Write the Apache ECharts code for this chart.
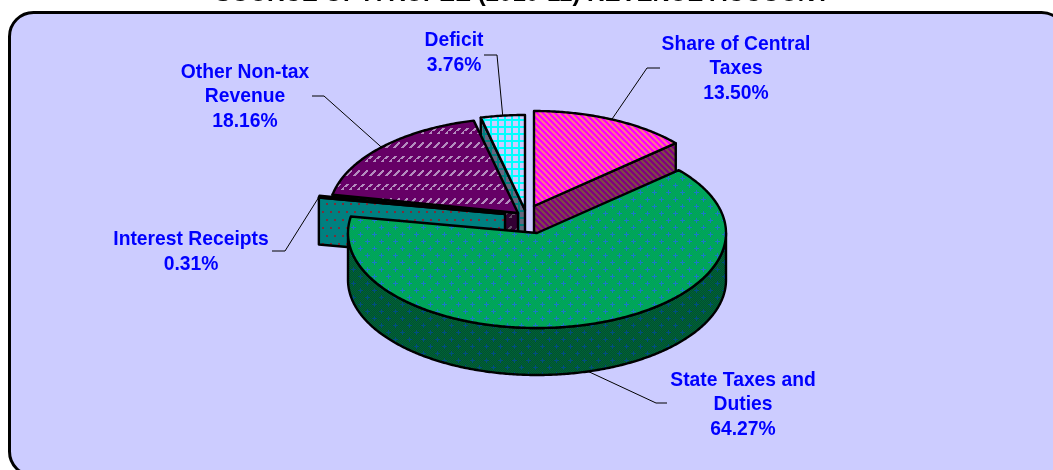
<!DOCTYPE html>
<html>
<head>
<meta charset="utf-8">
<style>html,body{margin:0;padding:0;background:#fff}#chart{width:1053px;height:470px}</style>
<script src="https://cdn.jsdelivr.net/npm/echarts@6/dist/echarts.min.js"></script>
</head>
<body>
<div id="chart"></div>
<script>
// ---- data ----
const categories = ['Share of Central Taxes', 'State Taxes and Duties', 'Interest Receipts', 'Other Non-tax Revenue', 'Deficit'];
const shares = [13.50, 64.27, 0.31, 18.16, 3.76];
const labelLines = [['Share of Central', 'Taxes'], ['State Taxes and', 'Duties'], ['Interest Receipts'], ['Other Non-tax', 'Revenue'], ['Deficit']];
const titleText = 'SOURCE OF A RUPEE (2010-11) REVENUE ACCOUNT';

// ---- layout and style ----
const pie = { cx: 537, cy: 233, rx: 189, ry: 95, depth: 47 };
const explode = [[-3, -27], [0, 0], [-32, -19], [-19, -20], [-12, -23]];
const stack = [1, 5, 4, 3, 2];
const labelPos = [[736, 69], [743, 405], [191, 252], [245, 97], [454, 53]];
const elbow = [[[647, 68], [660, 68]], [[656, 403], [667, 403]], [[285, 251], [272, 251]], [[324, 96], [312, 96]], [[497, 55], [484, 55]]];

function tile(w, h, bg, paint) {
  const c = document.createElement('canvas');
  c.width = w; c.height = h;
  const g = c.getContext('2d');
  g.fillStyle = bg; g.fillRect(0, 0, w, h);
  paint((x, y, col, pw, ph) => {
    g.fillStyle = col;
    g.fillRect(((x % w) + w) % w, ((y % h) + h) % h, pw || 1, ph || 1);
  });
  return { image: c, repeat: 'repeat' };
}
function stripes(a, b) {
  return tile(6, 6, a, p => { for (let x = 0; x < 6; x++) for (let y = 0; y < 6; y++) if (((x - y + 12) % 6) < 3) p(x, y, b); });
}
function weave(a, b, cross) {
  return tile(14, 14, a, p => {
    for (let x = 0; x < 14; x++) for (let y = 0; y < 14; y++) if ((x + y) % 2) p(x, y, b);
    [[3, 3], [10, 10]].forEach(([x, y]) => {
      for (let d = -2; d <= 2; d++) { p(x + d, y, cross); p(x, y + d, cross); }
    });
  });
}
function dashes(bg, col) {
  return tile(8, 28, bg, p => {
    [[1, 7], [5, 21]].forEach(([x, y]) => {
      for (let i = 0; i < 6; i++) { p(x + i, y - i, col, 3, 1); }
    });
  });
}
function dots(bg, col) {
  return tile(8, 16, bg, p => { p(2, 3, col, 2, 2); p(6, 11, col, 2, 2); });
}
function grid(bg, line) {
  return tile(7, 7, bg, p => { p(0, 0, line, 7, 2); p(0, 0, line, 2, 7); });
}
const topFill = [
  stripes('#FF00FF', '#FF7090'),
  weave('#00AE55', '#009C60', '#1A78C8'),
  dots('#008080', '#8B3A3A'),
  dashes('#660066', '#B48CBE'),
  grid('#CCCCFF', '#00FFFF')
];
const wallFill = [
  stripes('#800080', '#804548'),
  weave('#006633', '#004D33', '#004C80'),
  dots('#008080', '#7A2F3A'),
  dashes('#330033', '#66536A'),
  grid('#666680', '#008080')
];

// ---- geometry from the values ----
const total = shares.reduce((a, b) => a + b, 0);
const starts = [];
shares.reduce((acc, v, i) => { starts[i] = acc; return acc + v; }, 0);
const toAngle = v => v / total * Math.PI * 2;
function rim(c, t, dz) { return [c[0] + pie.rx * Math.sin(t), c[1] - pie.ry * Math.cos(t) + (dz || 0)]; }
function arc(c, a, b, dz) {
  const n = Math.max(2, Math.ceil((b - a) / 0.01)), out = [];
  for (let k = 0; k <= n; k++) out.push(rim(c, a + (b - a) * k / n, dz));
  return out;
}
const down = p => [p[0], p[1] + pie.depth];
const edge = { stroke: '#000', lineWidth: 2.4, lineJoin: 'round' };

function renderItem(params, api) {
  const i = params.dataIndex, value = api.value(0);
  const a = toAngle(starts[i]), b = a + toAngle(value);
  const c = [pie.cx + explode[i][0], pie.cy + explode[i][1]];
  const z = stack[i] * 10;
  const kids = [];
  const poly = (points, fill, zz) => kids.push({ type: 'polygon', z2: z + zz, shape: { points }, style: Object.assign({ fill }, edge) });

  // radial walls that face the viewer
  [a, b].forEach(t => {
    const s = Math.sin(t);
    const facing = t === a ? s < 0 && t > Math.PI : s > 0 && t < Math.PI;
    if (facing) {
      const p = rim(c, t);
      poly([c, p, down(p), down(c)], wallFill[i], 0);
    }
  });
  // outer curved wall, front half only
  const fa = Math.max(a, Math.PI / 2), fb = Math.min(b, Math.PI * 1.5);
  if (fb > fa) {
    const top = arc(c, fa, fb);
    poly(top.concat(top.slice().reverse().map(down)), wallFill[i], 1);
  }
  // top face
  poly([c].concat(arc(c, a, b)), topFill[i], 2);

  // leader line and label
  const mid = (a + b) / 2;
  let anchor = rim(c, mid);
  if (Math.cos(mid) < -0.7) anchor = down(anchor);
  kids.push({ type: 'polyline', z2: 100, shape: { points: [anchor].concat(elbow[i]) }, style: { fill: null, stroke: '#000', lineWidth: 1 } });
  kids.push({
    type: 'text', z2: 101, x: labelPos[i][0], y: labelPos[i][1],
    style: {
      text: labelLines[i].concat(value.toFixed(2) + '%').join('\n'),
      fill: '#0000FF', font: 'bold 19.3px "Liberation Sans", Arial, sans-serif',
      lineHeight: 24.7, align: 'center', verticalAlign: 'middle'
    }
  });
  return { type: 'group', children: kids };
}

const chart = echarts.init(document.getElementById('chart'), null, { renderer: 'canvas' });
chart.setOption({
  animation: false,
  backgroundColor: '#fff',
  title: {
    text: titleText, left: 215, top: -18, padding: 0,
    textStyle: { color: '#000', fontFamily: '"Liberation Sans", Arial, sans-serif', fontWeight: 'bold', fontSize: 24 }
  },
  graphic: [{
    type: 'rect', z: -10, silent: true,
    shape: { x: 9.5, y: 12.5, width: 1056, height: 463, r: 24 },
    style: { fill: '#CCCCFF', stroke: '#000', lineWidth: 3 }
  }],
  series: [{
    type: 'custom',
    coordinateSystem: 'none',
    silent: true,
    renderItem,
    data: shares.map((v, i) => ({ name: categories[i], value: [v] }))
  }]
});
</script>
</body>
</html>
